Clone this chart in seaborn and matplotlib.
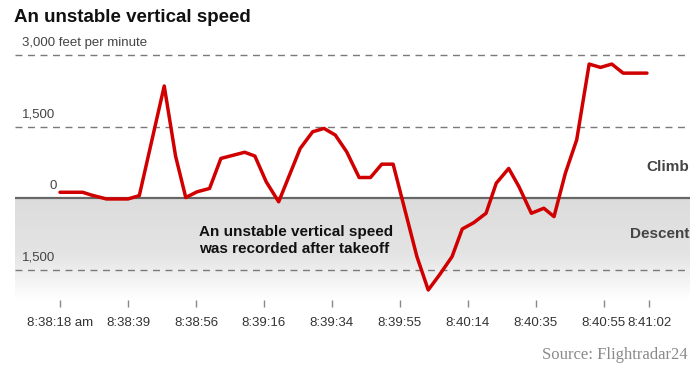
import numpy as np
import pandas as pd
import matplotlib
matplotlib.use("Agg")
import matplotlib.pyplot as plt
import seaborn as sns
from matplotlib.colors import LinearSegmentedColormap

# Position along the record sequence (tick records at 0, 6, ..., 48, 52)
record = [0, 2.0, 2.8, 4.1, 6.0, 7.0, 9.2, 10.2, 11.1, 12.1, 13.2, 14.2,
          16.3, 17.2, 18.2, 19.3, 21.2, 22.3, 23.3, 24.3, 25.3, 26.4, 27.4,
          28.4, 29.4, 31.5, 32.5, 33.5, 34.6, 35.5, 36.5, 37.6, 38.5, 39.6,
          40.5, 41.6, 42.7, 43.6, 44.6, 45.6, 46.7, 47.7, 48.7, 49.7, 51.8]
# Vertical speed, feet per minute
speed = [130, 130, 70, -10, -10, 60, 2360, 890, 20, 140, 210, 840,
         970, 890, 350, -70, 1050, 1400, 1470, 1330, 980, 440, 440,
         720, 720, -1220, -1920, -1600, -1220, -640, -510, -310, 320, 630,
         250, -310, -205, -380, 530, 1230, 2820, 2750, 2820, 2630, 2630]

tick_pos = [0, 6, 12, 18, 24, 30, 36, 42, 48, 52]
tick_labels = ["8:38:18 am", "8:38:39", "8:38:56", "8:39:16", "8:39:34",
               "8:39:55", "8:40:14", "8:40:35", "8:40:55", "8:41:02"]
grid_values = [3000, 1500, -1500]
grid_labels = ["3,000 feet per minute", "1,500", "1,500"]

df = pd.DataFrame({"record": record, "speed": speed})

sns.set_theme(style="white")
plt.rcParams['font.family'] = ['Liberation Sans', 'DejaVu Sans']

W, H = 700, 372
fig = plt.figure(figsize=(W / 100, H / 100), dpi=100)
fig.patch.set_facecolor("white")
ax = fig.add_axes([15 / W, 1 - 300 / H, 675 / W, 260 / H])
xlim = (-3.97, 55.6)
ylim = (-2130, 3325)

# grey descent band with fade
cmap = LinearSegmentedColormap.from_list(
    "band", [(0, "#dcdcdc"), (0.55, "#e4e4e4"), (1, "#ffffff")])
ax.imshow(np.linspace(0, 1, 256).reshape(-1, 1), extent=[xlim[0], xlim[1], ylim[0], 0],
          aspect="auto", cmap=cmap, origin="upper", zorder=0, interpolation="bilinear")

for v, lab in zip(grid_values, grid_labels):
    ax.axhline(v, color="#7a7a7a", lw=1.0, ls=(0, (5, 4)), zorder=1)
    ax.annotate(lab, xy=(0.0104, v), xycoords=("axes fraction", "data"),
                xytext=(0, 12), textcoords="offset pixels", ha="left", va="center",
                fontsize=9.5, color="#444444")
ax.axhline(0, color="#666666", lw=1.6, zorder=1)
ax.annotate("0", xy=(0.0622, 0), xycoords=("axes fraction", "data"),
            xytext=(0, 12), textcoords="offset pixels", ha="right", va="center",
            fontsize=9.5, color="#444444")

sns.lineplot(data=df, x="record", y="speed", ax=ax, color="#d10000", lw=2.5,
             estimator=None, sort=False, zorder=3)

ax.set_xlim(*xlim)
ax.set_ylim(*ylim)
ax.set_xticks(tick_pos, tick_labels)
ax.set_yticks([])
ax.tick_params(axis="x", bottom=True, length=5, width=1, color="#888888",
               direction="out", pad=7, labelsize=9.5, labelcolor="#333333")
ax.set_xlabel("")
ax.set_ylabel("")
for s in ax.spines.values():
    s.set_visible(False)

fig.text(14 / W, 1 - 17 / H, "An unstable vertical speed", fontsize=13.5,
         weight="bold", va="center", ha="left", color="#111111")
fig.text(689 / W, 1 - 167 / H, "Climb", fontsize=11, weight="bold",
         ha="right", va="center", color="#444444")
fig.text(689 / W, 1 - 234 / H, "Descent", fontsize=11, weight="bold",
         ha="right", va="center", color="#444444")
fig.text(199 / W, 1 - 240.5 / H, "An unstable vertical speed\nwas recorded after takeoff",
         fontsize=11, weight="bold", ha="left", va="center", color="#111111",
         linespacing=1.22)
fig.text(688 / W, 1 - 355 / H, "Source: Flightradar24", fontsize=12,
         family=["Liberation Serif", "DejaVu Serif"], ha="right", va="center",
         color="#8a8a8a")

fig.savefig("out.png", dpi=100, facecolor="white")
